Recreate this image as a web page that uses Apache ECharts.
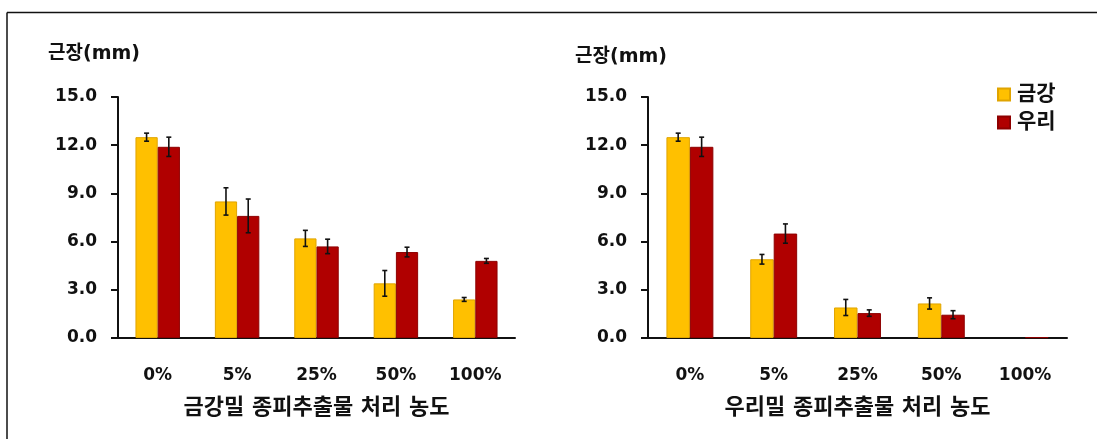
<!DOCTYPE html>
<html>
<head>
<meta charset="utf-8">
<script src="https://cdn.jsdelivr.net/npm/echarts@6/dist/echarts.min.js"></script>
<style>
html,body{margin:0;padding:0;background:#fff;}
#c{width:1097px;height:439px;}
</style>
</head>
<body>
<div id="c"></div>
<script>
const categories = ['0%', '5%', '25%', '50%', '100%'];
const yTicks = [0, 3, 6, 9, 12, 15];
const seriesNames = ['금강', '우리'];

const leftGeumgang = [12.5, 8.5, 6.2, 3.4, 2.4];
const leftGeumgangErr = [0.25, 0.85, 0.5, 0.8, 0.12];
const leftUri = [11.9, 7.6, 5.7, 5.35, 4.8];
const leftUriErr = [0.6, 1.05, 0.45, 0.3, 0.15];

const rightGeumgang = [12.5, 4.9, 1.9, 2.15, 0];
const rightGeumgangErr = [0.25, 0.3, 0.5, 0.35, 0];
const rightUri = [11.9, 6.5, 1.55, 1.45, 0.05];
const rightUriErr = [0.6, 0.6, 0.2, 0.25, 0];

const leftTitle = '금강밀 종피추출물 처리 농도';
const rightTitle = '우리밀 종피추출물 처리 농도';
const yName = '근장(mm)';

const FONT = '"DejaVu Sans", "Noto Sans CJK KR", sans-serif';
const YELLOW = '#FFC000';
const RED = '#B00000';
const BAR_FRAC = 0.28;

function errSeries(gridIdx, vals, errs, side) {
  return {
    type: 'custom',
    xAxisIndex: gridIdx,
    yAxisIndex: gridIdx,
    z: 10,
    silent: true,
    data: vals.map((v, i) => [i, v, errs[i]]),
    renderItem: function (params, api) {
      const idx = api.value(0);
      const v = api.value(1);
      const e = api.value(2);
      if (!e) return null;
      const bw = api.size([1, 0])[0];
      const off = side * bw * BAR_FRAC / 2;
      const top = api.coord([idx, v + e]);
      const bot = api.coord([idx, v - e]);
      const x = top[0] + off;
      const cap = 2.5;
      const st = { stroke: '#111', lineWidth: 1.6 };
      return {
        type: 'group',
        children: [
          { type: 'line', shape: { x1: x, y1: top[1], x2: x, y2: bot[1] }, style: st },
          { type: 'line', shape: { x1: x - cap, y1: top[1], x2: x + cap, y2: top[1] }, style: st },
          { type: 'line', shape: { x1: x - cap, y1: bot[1], x2: x + cap, y2: bot[1] }, style: st }
        ]
      };
    }
  };
}

function barSeries(gridIdx, name, vals, color, border) {
  return {
    type: 'bar',
    name: name,
    xAxisIndex: gridIdx,
    yAxisIndex: gridIdx,
    data: vals.map(v => (v === 0 ? '-' : v)),
    barWidth: (BAR_FRAC * 100) + '%',
    barGap: '0%',
    itemStyle: { color: color, borderColor: border, borderWidth: 1 }
  };
}

function xAxis(gridIdx, title) {
  return {
    type: 'category',
    gridIndex: gridIdx,
    data: categories,
    axisLine: { lineStyle: { color: '#111', width: 2 } },
    axisTick: { alignWithLabel: true, length: 5, lineStyle: { color: '#111', width: 2 } },
    axisLabel: { margin: 29, fontFamily: FONT, fontWeight: 'bold', fontSize: 17, color: '#111' },
    name: title,
    nameLocation: 'middle',
    nameGap: 59,
    nameTextStyle: { fontFamily: FONT, fontWeight: 'bold', fontSize: 22, color: '#111' }
  };
}

function yAxis(gridIdx) {
  return {
    type: 'value',
    gridIndex: gridIdx,
    min: yTicks[0],
    max: yTicks[yTicks.length - 1],
    interval: yTicks[1] - yTicks[0],
    splitLine: { show: false },
    axisLine: { show: true, lineStyle: { color: '#111', width: 2 } },
    axisTick: { show: true, length: 7, lineStyle: { color: '#111', width: 2 } },
    axisLabel: {
      margin: 21, fontFamily: FONT, fontWeight: 'bold', fontSize: 17, color: '#111',
      formatter: v => v.toFixed(1)
    }
  };
}

const chart = echarts.init(document.getElementById('c'));
chart.setOption({
  backgroundColor: '#fff',
  animation: false,
  grid: [
    { left: 118, right: 582, top: 97, bottom: 101 },
    { left: 648, right: 30, top: 97, bottom: 101 }
  ],
  xAxis: [xAxis(0, leftTitle), xAxis(1, rightTitle)],
  yAxis: [yAxis(0), yAxis(1)],
  legend: {
    data: seriesNames,
    orient: 'vertical',
    left: 992,
    top: 79,
    itemWidth: 12,
    itemHeight: 12,
    itemGap: 7,
    icon: 'rect',
    textStyle: { fontFamily: FONT, fontWeight: 'bold', fontSize: 21, color: '#111', padding: [0, 0, 0, 2] }
  },
  graphic: [
    { type: 'line', shape: { x1: 7, y1: 12.5, x2: 1097, y2: 12.5 }, style: { stroke: '#111', lineWidth: 1.5 } },
    { type: 'line', shape: { x1: 7, y1: 12.5, x2: 7, y2: 439 }, style: { stroke: '#111', lineWidth: 1.5 } },
    { type: 'text', left: 48, top: 45, style: { text: yName, font: 'bold 19px ' + FONT, fill: '#111' } },
    { type: 'text', left: 575, top: 48, style: { text: yName, font: 'bold 19px ' + FONT, fill: '#111' } }
  ],
  series: [
    barSeries(0, seriesNames[0], leftGeumgang, YELLOW, '#E0A400'),
    barSeries(0, seriesNames[1], leftUri, RED, '#8E0000'),
    barSeries(1, seriesNames[0], rightGeumgang, YELLOW, '#E0A400'),
    barSeries(1, seriesNames[1], rightUri, RED, '#8E0000'),
    errSeries(0, leftGeumgang, leftGeumgangErr, -1),
    errSeries(0, leftUri, leftUriErr, 1),
    errSeries(1, rightGeumgang, rightGeumgangErr, -1),
    errSeries(1, rightUri, rightUriErr, 1)
  ]
});
</script>
</body>
</html>
